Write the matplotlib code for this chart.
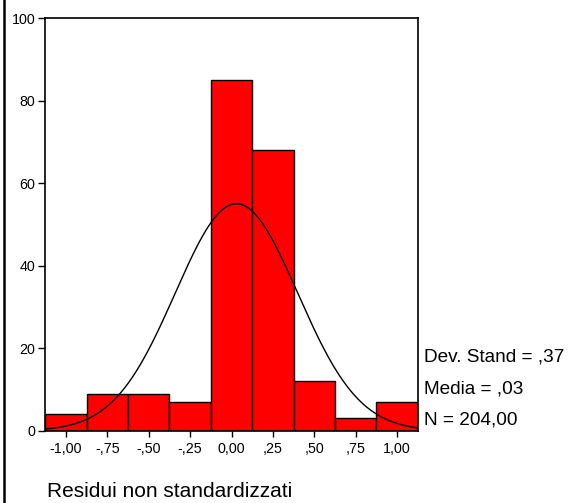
import numpy as np
import matplotlib
matplotlib.use("Agg")
import matplotlib.pyplot as plt
from matplotlib.lines import Line2D

plt.rcParams['font.family'] = ['Liberation Sans', 'DejaVu Sans']

bin_centers = [-1.00, -0.75, -0.50, -0.25, 0.00, 0.25, 0.50, 0.75, 1.00]
counts = [4, 9, 9, 7, 85, 68, 12, 3, 7]
tick_labels = ["-1,00", "-,75", "-,50", "-,25", "0,00", ",25", ",50", ",75", "1,00"]
bin_width = 0.25
mean = 0.03
sd = 0.37
n = 204
stats_text = ["Dev. Stand = ,37", "Media = ,03", "N = 204,00"]
xlabel = "Residui non standardizzati"

fig = plt.figure(figsize=(5.70, 5.03), dpi=100)
ax = fig.add_axes([0.0795, 0.1437, 0.6533, 0.8205])

ax.bar(bin_centers, counts, width=bin_width, color='#ff0000', edgecolor='black',
       linewidth=1.0, zorder=2)

xs = np.linspace(bin_centers[0] - bin_width / 2, bin_centers[-1] + bin_width / 2, 400)
ys = n * bin_width / (sd * np.sqrt(2 * np.pi)) * np.exp(-0.5 * ((xs - mean) / sd) ** 2)
ax.plot(xs, ys, color='black', linewidth=1.0, zorder=3)

ax.set_xlim(bin_centers[0] - bin_width / 2, bin_centers[-1] + bin_width / 2)
ax.set_ylim(0, 100)
ax.set_xticks(bin_centers)
ax.set_xticklabels(tick_labels, fontsize=10.3)
ax.set_yticks([0, 20, 40, 60, 80, 100])
ax.set_yticklabels(["0", "20", "40", "60", "80", "100"], fontsize=10.3)
ax.tick_params(axis='y', direction='out', length=5, width=1, pad=2)
ax.tick_params(axis='x', direction='out', length=4, width=1, pad=4)
for s in ax.spines.values():
    s.set_linewidth(1.2)
    s.set_color('black')

# stats text on the right
baselines_px = [361.7, 393.3, 424.3]
for t, yb in zip(stats_text, baselines_px):
    fig.text(424 / 570, 1 - yb / 503, t, fontsize=13.7, ha='left', va='baseline')

fig.text(47 / 570, 1 - 497 / 503, xlabel, fontsize=15, ha='left', va='baseline')

# outer frame line on the left
fig.add_artist(Line2D([3.5 / 570, 3.5 / 570], [0, 1], transform=fig.transFigure,
                      color='black', linewidth=1.8))

fig.savefig("out.png", dpi=100)
